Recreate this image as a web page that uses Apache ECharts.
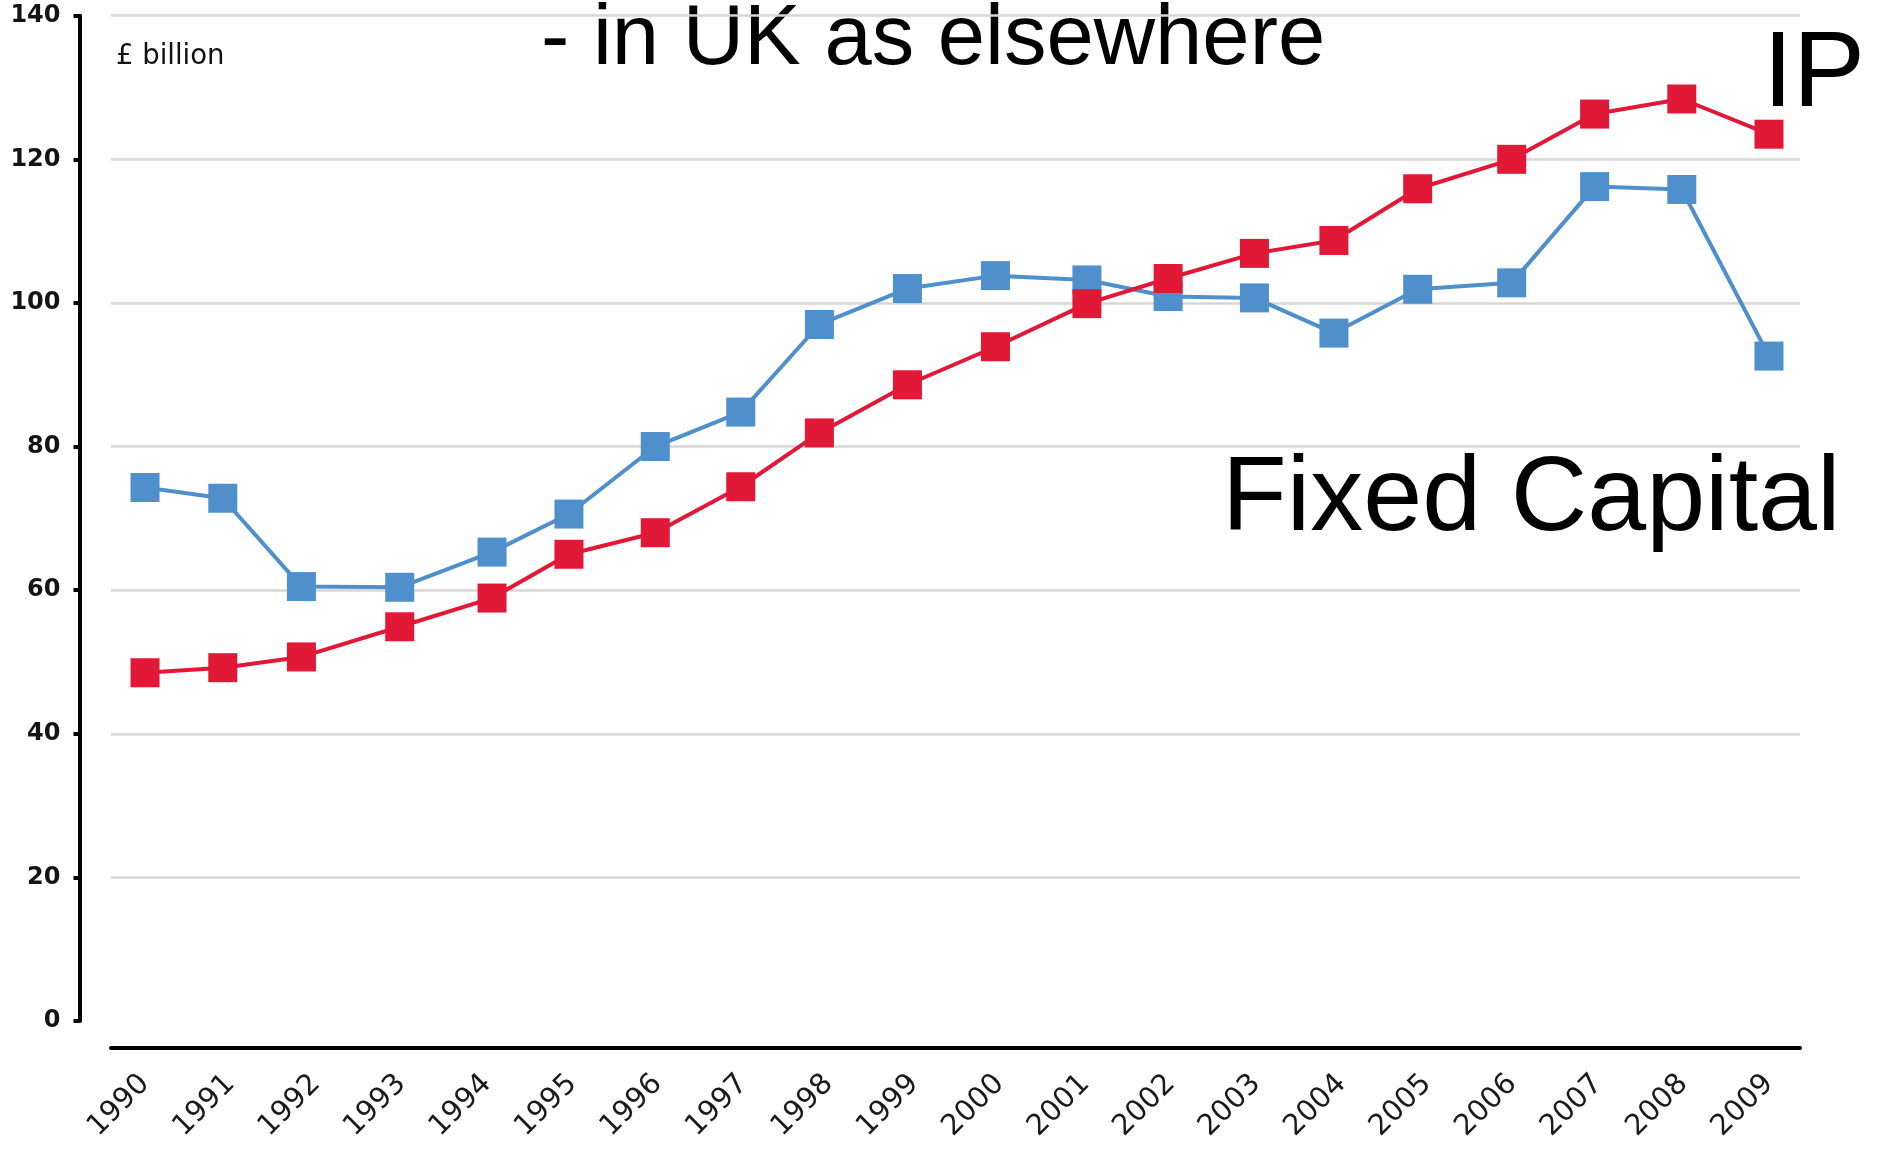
<!DOCTYPE html>
<html>
<head>
<meta charset="utf-8">
<script src="https://cdn.jsdelivr.net/npm/echarts@6/dist/echarts.min.js"></script>
<style>
html,body{margin:0;padding:0;background:#fff;}
#chart{width:1879px;height:1154px;}
</style>
</head>
<body>
<div id="chart"></div>
<script>
// ---- data ----
const years = [1990,1991,1992,1993,1994,1995,1996,1997,1998,1999,2000,2001,2002,2003,2004,2005,2006,2007,2008,2009];
// where each point sits along the year axis (in years)
const pointYears = [1990.00,1990.91,1991.83,1992.98,1994.06,1994.96,1995.97,1996.97,1997.89,1998.92,1999.95,2001.02,2001.97,2002.98,2003.91,2004.89,2005.99,2006.96,2007.98,2009.00];
const fixedCapital = [74.3,72.8,60.5,60.4,65.3,70.6,80.0,84.8,97.0,102.0,103.8,103.2,100.9,100.7,95.8,101.9,102.8,116.2,115.8,92.6];
const ipInvestment = [48.5,49.2,50.7,54.9,58.9,65.0,68.0,74.4,81.9,88.6,93.9,99.9,103.4,106.9,108.7,115.9,120.0,126.3,128.4,123.5];
const yTicks = [0,20,40,60,80,100,120,140];
const unitLabel = '£ billion';
const headline = '- in UK as elsewhere';
const ipLabel = 'IP';
const fcLabel = 'Fixed Capital';

const BLUE = '#4f8fcc';
const RED = '#e21837';

const pairs = arr => pointYears.map((y, i) => [y, arr[i]]);

const chart = echarts.init(document.getElementById('chart'), null, {renderer: 'canvas'});
chart.setOption({
  animation: false,
  backgroundColor: '#ffffff',
  grid: {left: 111, right: 79, top: 15.7, bottom: 133, containLabel: false},
  xAxis: {
    type: 'value',
    min: 1989.602,
    max: 2009.363,
    offset: 26.5,
    axisLine: {show: true, onZero: false, lineStyle: {color: '#000', width: 4}},
    axisTick: {show: false},
    splitLine: {show: false},
    axisLabel: {
      customValues: years,
      rotate: 45,
      margin: 32,
      color: '#1a1a1a',
      fontFamily: 'DejaVu Sans',
      fontSize: 29,
      formatter: v => String(v)
    }
  },
  yAxis: {
    type: 'value',
    min: 0,
    max: 140,
    interval: 20,
    offset: 31.5,
    axisLine: {show: true, lineStyle: {color: '#000', width: 4}},
    axisTick: {show: true, length: 6, lineStyle: {color: '#000', width: 4}},
    axisLabel: {
      customValues: yTicks,
      margin: 19,
      color: '#141414',
      fontFamily: 'DejaVu Sans',
      fontWeight: 'bold',
      fontSize: 24
    },
    splitLine: {show: true, showMinLine: false, lineStyle: {color: '#d6d6d6', width: 2.5}}
  },
  series: [
    {
      name: fcLabel,
      type: 'line',
      data: pairs(fixedCapital),
      symbol: 'rect',
      symbolSize: 29,
      showAllSymbol: true,
      lineStyle: {color: BLUE, width: 4},
      itemStyle: {color: BLUE}
    },
    {
      name: ipLabel,
      type: 'line',
      data: pairs(ipInvestment),
      symbol: 'rect',
      symbolSize: 29,
      showAllSymbol: true,
      lineStyle: {color: RED, width: 4},
      itemStyle: {color: RED}
    }
  ],
  graphic: [
    {type: 'text', x: 116, y: 57, silent: true,
     style: {text: unitLabel, fill: '#111', font: '27.5px "DejaVu Sans"', textAlign: 'left', textVerticalAlign: 'middle', align: 'left', verticalAlign: 'middle'}},
    {type: 'text', x: 541, y: 41, silent: true,
     style: {text: headline, fill: '#000', font: '85px "Liberation Sans"', textAlign: 'left', textVerticalAlign: 'middle', align: 'left', verticalAlign: 'middle'}},
    {type: 'text', x: 1763, y: 76, silent: true,
     style: {text: ipLabel, fill: '#000', font: '108px "Liberation Sans"', textAlign: 'left', textVerticalAlign: 'middle', align: 'left', verticalAlign: 'middle'}},
    {type: 'text', x: 1222, y: 501, silent: true,
     style: {text: fcLabel, fill: '#000', font: '106px "Liberation Sans"', textAlign: 'left', textVerticalAlign: 'middle', align: 'left', verticalAlign: 'middle'}}
  ]
});
</script>
</body>
</html>
